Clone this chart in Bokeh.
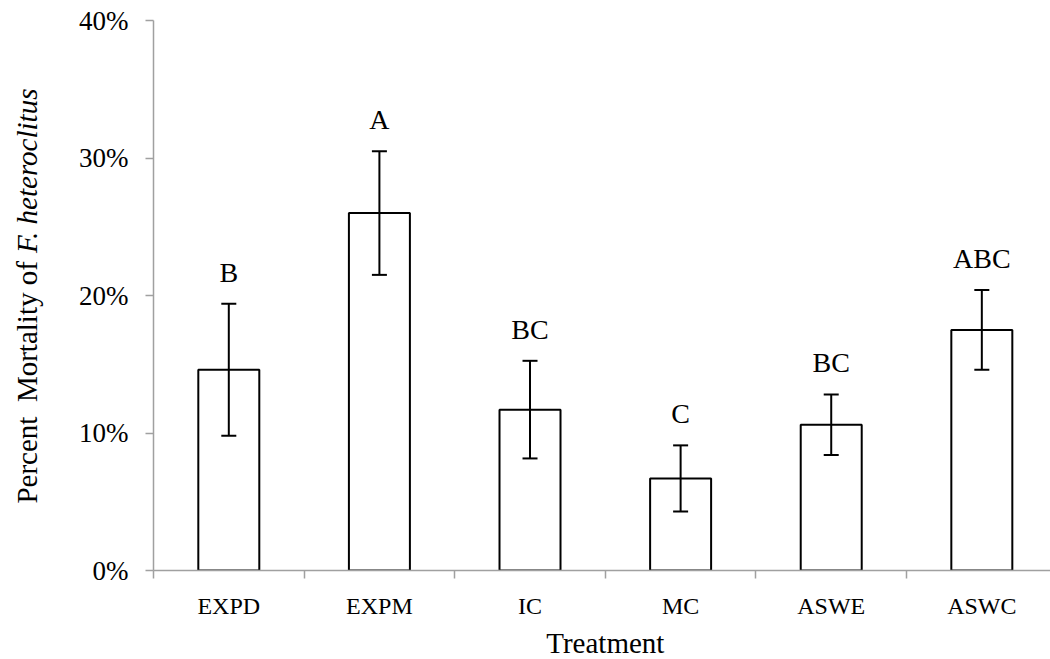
import math
from bokeh.plotting import figure
from bokeh.models import (ColumnDataSource, Range1d, FixedTicker, PrintfTickFormatter,
                          CustomJSTickFormatter, Whisker, TeeHead, Label)
from bokeh.embed import file_html
from bokeh.resources import INLINE
from bokeh.core.properties import value

# ---- data ----
categories = ["EXPD", "EXPM", "IC", "MC", "ASWE", "ASWC"]
mortality = [14.6, 26.0, 11.7, 6.7, 10.6, 17.5]      # percent
std_err = [4.8, 4.5, 3.55, 2.4, 2.2, 2.9]            # percent
letters = ["B", "A", "BC", "C", "BC", "ABC"]
y_ticks = [0, 10, 20, 30, 40]

SERIF = "Liberation Serif"
AXIS_GRAY = "#a0a0a0"

centers = [i + 0.5 for i in range(len(categories))]
src = ColumnDataSource(dict(
    x=centers,
    top=mortality,
    upper=[m + e for m, e in zip(mortality, std_err)],
    lower=[m - e for m, e in zip(mortality, std_err)],
    letter=letters,
    letter_y=[m + e + 2.3 for m, e in zip(mortality, std_err)],
))

p = figure(width=1050, height=659, output_backend="svg", toolbar_location=None,
           x_range=Range1d(0, 5.956), y_range=Range1d(0, 40),
           min_border_left=153, min_border_right=0, min_border_top=20, min_border_bottom=89)
p.outline_line_color = None
p.xgrid.visible = False
p.ygrid.visible = False
p.background_fill_color = "white"

p.vbar(x="x", top="top", width=0.405, bottom=0, source=src,
       fill_color="white", line_color="black", line_width=2)

w = Whisker(base="x", upper="upper", lower="lower", source=src,
            line_color="black", line_width=2, level="overlay",
            upper_head=TeeHead(size=15, line_color="black", line_width=2),
            lower_head=TeeHead(size=15, line_color="black", line_width=2))
p.add_layout(w)

p.text(x="x", y="letter_y", text="letter", source=src,
       text_font=value(SERIF), text_font_size="28px", text_color="black",
       text_align="center", text_baseline="middle")

# y axis
ya = p.yaxis[0]
ya.ticker = FixedTicker(ticks=y_ticks)
ya.formatter = PrintfTickFormatter(format="%d%%")
ya.axis_line_color = AXIS_GRAY
ya.axis_line_width = 1.5
ya.major_tick_line_color = AXIS_GRAY
ya.major_tick_line_width = 1.5
ya.major_tick_out = 8
ya.major_tick_in = 0
ya.minor_tick_line_color = None
ya.major_label_standoff = 17
ya.major_label_text_font = SERIF
ya.major_label_text_font_size = "27px"
ya.major_label_text_color = "black"

# x axis
xa = p.xaxis[0]
xa.ticker = FixedTicker(ticks=centers, minor_ticks=list(range(len(categories))))
xa.formatter = CustomJSTickFormatter(args=dict(labels=categories),
                                     code="const i = Math.floor(tick); return labels[i] || '';")
xa.axis_line_color = AXIS_GRAY
xa.axis_line_width = 1.5
xa.major_tick_out = 0
xa.major_tick_in = 0
xa.major_tick_line_color = None
xa.minor_tick_line_color = AXIS_GRAY
xa.minor_tick_line_width = 1.5
xa.minor_tick_out = 8
xa.minor_tick_in = 0
xa.major_label_standoff = 14
xa.major_label_text_font = SERIF
xa.major_label_text_font_size = "24px"
xa.major_label_text_color = "black"

# axis titles (placed in side panels so they are not clipped by the frame)
p.add_layout(Label(x=3.0, y=-5.24, text="Treatment", text_font=SERIF, text_font_size="29px",
                   text_color="black", text_align="center", text_baseline="middle"), "below")
p.add_layout(Label(x=-0.843, y=4.87, text="Percent\u00a0\u00a0Mortality of", angle=math.pi / 2,
                   text_font=SERIF, text_font_size="29px", text_color="black",
                   text_align="left", text_baseline="alphabetic"), "left")
p.add_layout(Label(x=-0.843, y=23.1, text="F. heteroclitus", angle=math.pi / 2,
                   text_font=SERIF, text_font_size="29px", text_font_style="italic",
                   text_color="black", text_align="left", text_baseline="alphabetic"), "left")

open("out.html", "w").write(file_html(p, INLINE))
